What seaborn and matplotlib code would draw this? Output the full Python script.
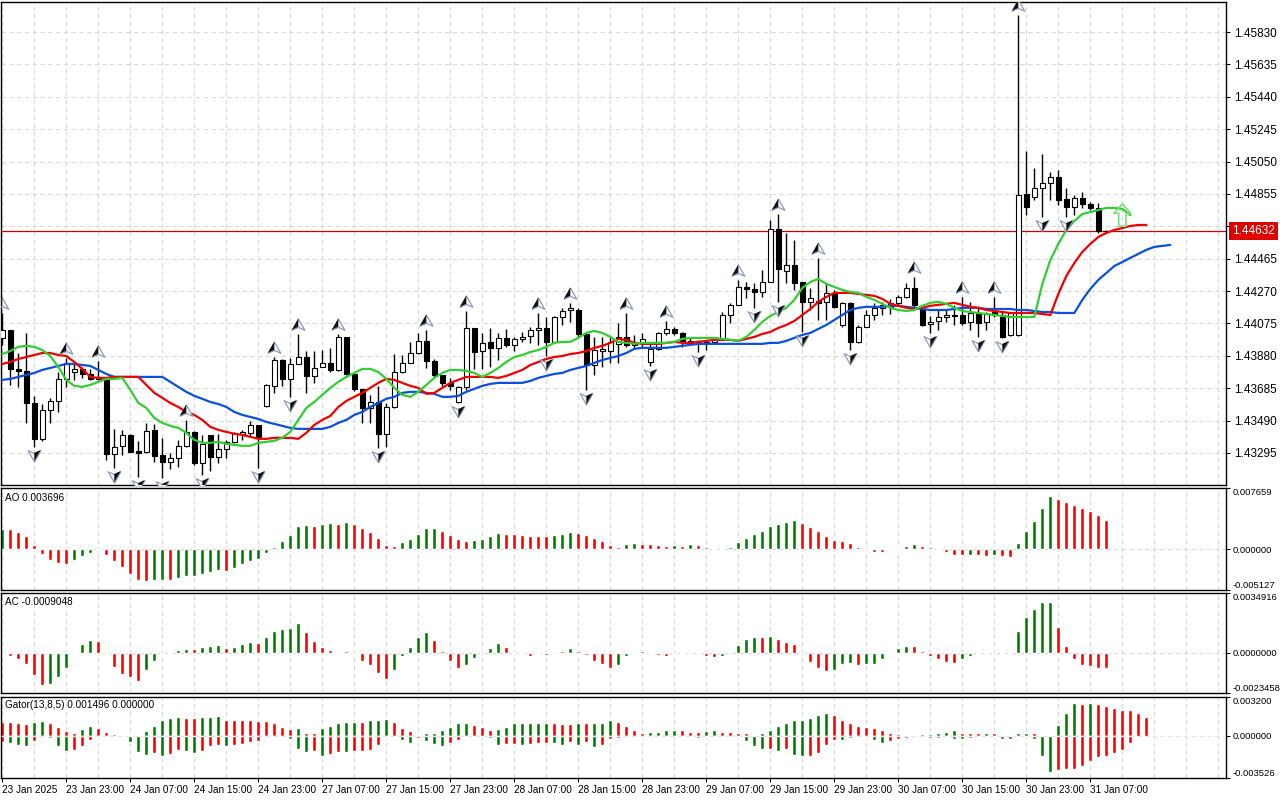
import numpy as np
import matplotlib
matplotlib.use('Agg')
import matplotlib.pyplot as plt
import matplotlib.transforms as mtransforms
from matplotlib.path import Path
import seaborn as sns

sns.set_theme(style='white')
plt.rcParams['font.family'] = ['Liberation Sans', 'DejaVu Sans']

# ---------------- DATA ----------------
open_ = [
    1.43988, 1.44036, 1.43801, 1.43789, 1.43596, 1.43380, 1.43554, 1.43608, 1.43741, 1.43783,
    1.43801, 1.43771, 1.43753, 1.43741, 1.43289, 1.43338, 1.43404, 1.43307, 1.43301, 1.43434,
    1.43283, 1.43241, 1.43265, 1.43338, 1.43422, 1.43235, 1.43404, 1.43271, 1.43320, 1.43362,
    1.43410, 1.43416, 1.43464, 1.43578, 1.43699, 1.43855, 1.43741, 1.43831, 1.43873, 1.43759,
    1.43813, 1.43837, 1.43795, 1.43994, 1.43771, 1.43681, 1.43566, 1.43602, 1.43410, 1.43572,
    1.43783, 1.43837, 1.43897, 1.43970, 1.43849, 1.43765, 1.43717, 1.43602, 1.43693, 1.44048,
    1.43909, 1.43964, 1.43928, 1.43988, 1.43946, 1.43982, 1.44000, 1.44036, 1.44048, 1.43964,
    1.44114, 1.44156, 1.44156, 1.44012, 1.43825, 1.43909, 1.43909, 1.43952, 1.43994, 1.43964,
    1.43958, 1.43843, 1.43922, 1.44018, 1.44042, 1.44018, 1.43970, 1.43964, 1.43964, 1.43964,
    1.43982, 1.44126, 1.44187, 1.44295, 1.44283, 1.44265, 1.44325, 1.44644, 1.44391, 1.44427,
    1.44325, 1.44205, 1.44211, 1.44205, 1.44259, 1.44066, 1.44199, 1.43964, 1.44054, 1.44126,
    1.44169, 1.44175, 1.44199, 1.44235, 1.44289, 1.44162, 1.44072, 1.44090, 1.44114, 1.44126,
    1.44126, 1.44084, 1.44138, 1.44084, 1.44144, 1.44126, 1.44006, 1.44006, 1.44855, 1.44837,
    1.44891, 1.44921, 1.44957, 1.44825, 1.44777, 1.44831, 1.44795, 1.44771, 1.44632]
high_ = [
    1.44138, 1.44036, 1.43897, 1.44018, 1.43639, 1.43590, 1.43627, 1.43783, 1.43867, 1.43837,
    1.43813, 1.43801, 1.43849, 1.43741, 1.43440, 1.43434, 1.43410, 1.43368, 1.43476, 1.43470,
    1.43386, 1.43295, 1.43374, 1.43494, 1.43428, 1.43404, 1.43404, 1.43410, 1.43374, 1.43422,
    1.43434, 1.43488, 1.43464, 1.43711, 1.43873, 1.43861, 1.43867, 1.44012, 1.43909, 1.43909,
    1.43915, 1.43928, 1.44012, 1.43994, 1.43777, 1.43681, 1.43645, 1.43699, 1.43596, 1.43891,
    1.43885, 1.43964, 1.44018, 1.44036, 1.43861, 1.43765, 1.43747, 1.43699, 1.44150, 1.44048,
    1.44018, 1.44048, 1.44018, 1.44042, 1.43994, 1.44024, 1.44054, 1.44138, 1.44114, 1.44120,
    1.44169, 1.44199, 1.44169, 1.44018, 1.43994, 1.43994, 1.43994, 1.44078, 1.44138, 1.44006,
    1.44018, 1.43958, 1.44024, 1.44090, 1.44054, 1.44024, 1.43988, 1.43976, 1.43976, 1.43988,
    1.44144, 1.44199, 1.44337, 1.44325, 1.44319, 1.44397, 1.44698, 1.44734, 1.44620, 1.44578,
    1.44325, 1.44289, 1.44469, 1.44319, 1.44277, 1.44205, 1.44205, 1.44066, 1.44156, 1.44199,
    1.44205, 1.44223, 1.44247, 1.44319, 1.44355, 1.44175, 1.44120, 1.44156, 1.44156, 1.44187,
    1.44235, 1.44205, 1.44169, 1.44144, 1.44235, 1.44144, 1.44144, 1.45933, 1.45114, 1.45012,
    1.45096, 1.44987, 1.44999, 1.44891, 1.44849, 1.44867, 1.44807, 1.44801, 1.44636]
low_ = [
    1.43946, 1.43705, 1.43693, 1.43476, 1.43332, 1.43368, 1.43476, 1.43542, 1.43693, 1.43735,
    1.43747, 1.43735, 1.43735, 1.43253, 1.43205, 1.43283, 1.43301, 1.43151, 1.43295, 1.43241,
    1.43145, 1.43199, 1.43211, 1.43332, 1.43223, 1.43163, 1.43187, 1.43235, 1.43265, 1.43356,
    1.43374, 1.43392, 1.43205, 1.43572, 1.43657, 1.43699, 1.43633, 1.43831, 1.43657, 1.43717,
    1.43813, 1.43783, 1.43789, 1.43765, 1.43669, 1.43476, 1.43476, 1.43326, 1.43332, 1.43566,
    1.43777, 1.43837, 1.43891, 1.43807, 1.43753, 1.43699, 1.43675, 1.43596, 1.43675, 1.43801,
    1.43801, 1.43813, 1.43855, 1.43934, 1.43909, 1.43964, 1.43958, 1.43946, 1.43879, 1.43958,
    1.44066, 1.44084, 1.43994, 1.43675, 1.43765, 1.43813, 1.43837, 1.43837, 1.43934, 1.43928,
    1.43934, 1.43819, 1.43915, 1.44006, 1.44006, 1.43934, 1.43946, 1.43903, 1.43915, 1.43952,
    1.43976, 1.44078, 1.44187, 1.44229, 1.44169, 1.44235, 1.44325, 1.44205, 1.44319, 1.44277,
    1.44024, 1.44156, 1.44096, 1.44096, 1.44169, 1.44054, 1.43915, 1.43958, 1.44054, 1.44096,
    1.44126, 1.44132, 1.44187, 1.44229, 1.44175, 1.44060, 1.44018, 1.44036, 1.44084, 1.44066,
    1.44066, 1.44036, 1.43994, 1.44036, 1.44114, 1.43988, 1.44000, 1.44000, 1.44728, 1.44819,
    1.44716, 1.44819, 1.44789, 1.44716, 1.44728, 1.44771, 1.44758, 1.44620, 1.44629]
close_ = [
    1.44036, 1.43801, 1.43789, 1.43596, 1.43380, 1.43554, 1.43608, 1.43741, 1.43837, 1.43801,
    1.43771, 1.43741, 1.43741, 1.43289, 1.43332, 1.43404, 1.43301, 1.43295, 1.43428, 1.43277,
    1.43241, 1.43265, 1.43338, 1.43422, 1.43235, 1.43350, 1.43271, 1.43320, 1.43362, 1.43416,
    1.43422, 1.43464, 1.43392, 1.43705, 1.43855, 1.43741, 1.43831, 1.43873, 1.43759, 1.43807,
    1.43837, 1.43795, 1.43994, 1.43771, 1.43681, 1.43566, 1.43602, 1.43410, 1.43572, 1.43783,
    1.43837, 1.43897, 1.43970, 1.43849, 1.43765, 1.43717, 1.43699, 1.43693, 1.44048, 1.43903,
    1.43958, 1.43928, 1.43988, 1.43946, 1.43982, 1.43994, 1.44036, 1.44048, 1.43964, 1.44114,
    1.44150, 1.44169, 1.44012, 1.43825, 1.43915, 1.43922, 1.43964, 1.43994, 1.43946, 1.43946,
    1.43982, 1.43922, 1.44018, 1.44042, 1.44018, 1.43970, 1.43958, 1.43952, 1.43958, 1.43982,
    1.44126, 1.44187, 1.44295, 1.44283, 1.44265, 1.44325, 1.44644, 1.44403, 1.44427, 1.44319,
    1.44205, 1.44229, 1.44199, 1.44259, 1.44175, 1.44199, 1.43964, 1.44054, 1.44126, 1.44169,
    1.44187, 1.44199, 1.44235, 1.44289, 1.44187, 1.44066, 1.44084, 1.44114, 1.44126, 1.44120,
    1.44078, 1.44138, 1.44078, 1.44132, 1.44126, 1.43994, 1.44138, 1.44849, 1.44777, 1.44891,
    1.44921, 1.44957, 1.44819, 1.44777, 1.44831, 1.44795, 1.44771, 1.44632, 1.44632]

# Alligator (already shifted forward as displayed): jaw (blue), teeth (red), lips (green)
jaw = [
    1.43735, 1.43741, 1.43753, 1.43765, 1.43777, 1.43795, 1.43807, 1.43819, 1.43831, 1.43831,
    1.43825, 1.43819, 1.43795, 1.43771, 1.43753, 1.43753, 1.43753, 1.43753, 1.43753, 1.43753,
    1.43753, 1.43723, 1.43693, 1.43663, 1.43639, 1.43621, 1.43602, 1.43590, 1.43572, 1.43542,
    1.43524, 1.43512, 1.43500, 1.43482, 1.43470, 1.43458, 1.43446, 1.43440, 1.43440, 1.43440,
    1.43440, 1.43452, 1.43476, 1.43494, 1.43524, 1.43542, 1.43572, 1.43596, 1.43621, 1.43633,
    1.43657, 1.43663, 1.43663, 1.43657, 1.43651, 1.43633, 1.43633, 1.43639, 1.43663, 1.43681,
    1.43699, 1.43711, 1.43717, 1.43717, 1.43717, 1.43717, 1.43729, 1.43747, 1.43759, 1.43771,
    1.43777, 1.43795, 1.43807, 1.43819, 1.43837, 1.43855, 1.43867, 1.43879, 1.43897, 1.43922,
    1.43928, 1.43928, 1.43928, 1.43928, 1.43934, 1.43940, 1.43946, 1.43952, 1.43952, 1.43952,
    1.43952, 1.43952, 1.43952, 1.43952, 1.43952, 1.43952, 1.43958, 1.43958, 1.43970, 1.43988,
    1.44006, 1.44018, 1.44042, 1.44066, 1.44096, 1.44126, 1.44156, 1.44169, 1.44175, 1.44175,
    1.44175, 1.44181, 1.44181, 1.44175, 1.44169, 1.44162, 1.44156, 1.44156, 1.44156, 1.44162,
    1.44169, 1.44169, 1.44169, 1.44162, 1.44162, 1.44162, 1.44162, 1.44156, 1.44156, 1.44150,
    1.44144, 1.44144, 1.44138, 1.44138, 1.44138, 1.44217, 1.44283, 1.44337, 1.44379, 1.44421,
    1.44445, 1.44470, 1.44494, 1.44518, 1.44536, 1.44542, 1.44548]
teeth = [
    1.43831, 1.43843, 1.43861, 1.43873, 1.43885, 1.43897, 1.43897, 1.43885, 1.43879, 1.43843,
    1.43801, 1.43753, 1.43747, 1.43747, 1.43753, 1.43753, 1.43753, 1.43753, 1.43705, 1.43657,
    1.43627, 1.43596, 1.43572, 1.43542, 1.43524, 1.43494, 1.43452, 1.43434, 1.43422, 1.43410,
    1.43404, 1.43392, 1.43380, 1.43380, 1.43386, 1.43386, 1.43386, 1.43380, 1.43416, 1.43464,
    1.43494, 1.43518, 1.43572, 1.43608, 1.43633, 1.43657, 1.43687, 1.43717, 1.43741, 1.43735,
    1.43717, 1.43699, 1.43687, 1.43651, 1.43657, 1.43687, 1.43717, 1.43735, 1.43753, 1.43753,
    1.43753, 1.43753, 1.43747, 1.43759, 1.43777, 1.43795, 1.43825, 1.43843, 1.43861, 1.43873,
    1.43879, 1.43891, 1.43897, 1.43909, 1.43928, 1.43940, 1.43958, 1.43982, 1.43976, 1.43958,
    1.43952, 1.43952, 1.43952, 1.43958, 1.43964, 1.43958, 1.43958, 1.43964, 1.43970, 1.43976,
    1.43976, 1.43976, 1.43970, 1.43982, 1.43994, 1.44012, 1.44024, 1.44048, 1.44066, 1.44090,
    1.44126, 1.44162, 1.44205, 1.44235, 1.44259, 1.44259, 1.44259, 1.44253, 1.44247, 1.44241,
    1.44223, 1.44193, 1.44181, 1.44169, 1.44162, 1.44169, 1.44181, 1.44187, 1.44193, 1.44199,
    1.44187, 1.44175, 1.44169, 1.44156, 1.44150, 1.44144, 1.44138, 1.44138, 1.44138, 1.44138,
    1.44132, 1.44126, 1.44253, 1.44361, 1.44439, 1.44506, 1.44554, 1.44596, 1.44620, 1.44638,
    1.44650, 1.44662, 1.44668, 1.44668]
lips = [
    1.43891, 1.43909, 1.43934, 1.43940, 1.43934, 1.43915, 1.43879, 1.43813, 1.43735, 1.43699,
    1.43693, 1.43705, 1.43723, 1.43741, 1.43741, 1.43747, 1.43675, 1.43596, 1.43566, 1.43506,
    1.43476, 1.43458, 1.43446, 1.43416, 1.43374, 1.43356, 1.43356, 1.43362, 1.43350, 1.43344,
    1.43338, 1.43338, 1.43356, 1.43362, 1.43368, 1.43386, 1.43422, 1.43494, 1.43566, 1.43602,
    1.43645, 1.43687, 1.43723, 1.43753, 1.43777, 1.43801, 1.43801, 1.43783, 1.43741, 1.43687,
    1.43645, 1.43633, 1.43663, 1.43705, 1.43747, 1.43777, 1.43795, 1.43795, 1.43789, 1.43777,
    1.43753, 1.43777, 1.43807, 1.43843, 1.43873, 1.43885, 1.43903, 1.43915, 1.43934, 1.43958,
    1.43964, 1.43964, 1.43988, 1.44018, 1.44030, 1.44018, 1.43994, 1.43964, 1.43958, 1.43952,
    1.43958, 1.43958, 1.43958, 1.43958, 1.43964, 1.43982, 1.43988, 1.43988, 1.43988, 1.43988,
    1.43982, 1.43976, 1.43970, 1.43994, 1.44036, 1.44084, 1.44120, 1.44144, 1.44169, 1.44217,
    1.44289, 1.44325, 1.44343, 1.44313, 1.44295, 1.44277, 1.44265, 1.44259, 1.44235, 1.44217,
    1.44193, 1.44169, 1.44156, 1.44150, 1.44156, 1.44181, 1.44199, 1.44205, 1.44193, 1.44169,
    1.44150, 1.44144, 1.44138, 1.44132, 1.44126, 1.44120, 1.44114, 1.44114, 1.44114, 1.44114,
    1.44313, 1.44457, 1.44554, 1.44638, 1.44692, 1.44734, 1.44746, 1.44758, 1.44771, 1.44771,
    1.44765, 1.44728]

fractal_up = [0, 8, 12, 23, 34, 37, 42, 53, 58, 67, 71, 78, 83, 92, 97, 102, 114, 120, 124, 127]
fractal_down = [4, 14, 17, 20, 25, 32, 36, 47, 57, 68, 73, 81, 87, 94, 97, 100, 106, 116, 122,
                125, 130, 133]
signal_bar = [140]
signal_price = [1.44728]
last_price = 1.44632

# Awesome Oscillator, in units of 1e-4
ao_e4 = [
    25.5, 24.7, 20.9, 15.9, 4.6, -6.3, -13.8, -17.5, -18.8, -13.8,
    -9.2, -5.0, -1.7, -7.5, -15.0, -22.6, -30.9, -38.9, -40.5, -38.9,
    -38.6, -38.8, -35.9, -34.3, -33.4, -31.3, -29.2, -26.7, -27.2, -23.8,
    -18.8, -15.0, -12.5, -5.0, 2.1, 9.6, 17.1, 28.4, 29.7, 29.5,
    31.3, 32.2, 31.3, 33.8, 30.9, 25.9, 20.9, 13.4, 4.6, 3.3,
    8.4, 12.1, 18.4, 25.9, 26.2, 22.1, 18.0, 12.1, 9.6, 10.9,
    12.1, 15.9, 19.6, 19.4, 18.4, 17.1, 16.3, 16.1, 15.9, 17.1,
    18.4, 20.9, 19.6, 17.1, 13.4, 9.6, 4.6, 2.1, 5.8, 7.1,
    6.9, 5.8, 4.6, 3.3, 4.6, 4.4, 5.8, 4.6, 2.1, 0.8,
    1.0, 2.1, 8.4, 13.4, 18.4, 22.1, 28.4, 30.9, 33.4, 35.9,
    32.2, 27.2, 22.1, 15.9, 10.9, 10.7, 7.1, 2.1, -0.8, -3.8,
    -3.9, -0.8, 0.8, 3.3, 5.8, 3.3, 2.1, -0.8, -3.8, -7.5,
    -7.6, -7.4, -7.5, -8.8, -7.5, -8.8, -10.0, 7.1, 22.1, 34.7,
    51.0, 66.0, 62.3, 58.5, 54.7, 51.0, 47.2, 42.2, 37.0]
# Accelerator Oscillator, in units of 1e-4
ac_e4 = [
    -0.4, -1.6, -3.9, -6.8, -13.2, -18.5, -18.3, -14.4, -8.6, -0.4,
    5.3, 7.6, 7.0, -0.2, -8.0, -12.6, -14.4, -16.2, -10.3, -4.5,
    -0.8, 0.4, 1.8, 2.3, 2.2, 3.5, 4.1, 4.7, 2.9, 3.5,
    5.3, 6.4, 5.8, 9.3, 12.8, 14.0, 14.6, 17.5, 12.3, 7.0,
    3.5, 1.8, 0.2, 1.2, -0.2, -4.5, -7.4, -11.5, -15.0, -10.3,
    -2.1, 3.5, 9.3, 12.3, 7.6, 1.2, -4.5, -9.1, -7.4, -3.3,
    -0.2, 2.9, 5.8, 3.5, 0.6, 0.2, -2.1, -0.3, -1.0, 0.2,
    1.2, 2.9, 1.2, -1.0, -4.5, -6.8, -8.6, -7.4, -2.1, 0.6,
    1.2, -0.4, -1.0, -1.6, -0.4, 0.2, 0.6, -0.05, -1.6, -2.7,
    -1.6, -0.2, 4.7, 8.2, 9.3, 9.2, 9.9, 8.2, 6.4, 5.3,
    -0.2, -5.6, -8.6, -10.9, -10.3, -6.8, -6.2, -7.4, -6.8, -6.7,
    -3.9, -0.1, 2.9, 4.1, 4.0, 1.2, -1.6, -3.9, -5.6, -6.2,
    -3.9, -2.1, -0.8, -0.4, -0.1, -0.8, -0.5, 12.8, 21.0, 25.7,
    29.8, 29.9, 15.2, 4.1, -3.9, -7.4, -7.5, -8.6, -9.05]
# Gator oscillator, in units of 1e-4 (upper shifted 5 bars, lower shifted 3 bars)
gator_up_e4 = [
    11.1, 11.0, 10.0, 9.9, 11.1, 11.9, 10.0, 7.5, 3.6, 1.7,
    5.8, 8.3, 6.4, 3.3, 1.1, 0.3, 0.1, 0.8, 3.6, 8.3,
    13.3, 14.4, 15.5, 14.9, 14.8, 15.0, 15.8, 15.9, 13.3, 12.7,
    12.6, 12.5, 12.4, 12.2, 10.0, 7.5, 5.8, 6.6, 2.5, 1.7,
    6.6, 8.3, 10.8, 11.3, 11.6, 11.5, 12.5, 13.0, 13.6, 11.1,
    6.6, 3.6, 0.3, 1.7, 2.2, 4.2, 7.5, 10.0, 10.1, 9.1,
    7.5, 5.0, 5.1, 7.5, 10.0, 10.1, 10.2, 10.3, 10.4, 10.0,
    9.9, 9.8, 10.8, 10.0, 10.1, 10.8, 12.5, 11.6, 8.3, 4.2,
    2.5, 2.6, 3.3, 4.2, 5.0, 4.2, 3.3, 3.2, 3.4, 4.2,
    3.3, 3.2, 2.5, 1.7, 0.3, 2.2, 5.0, 8.3, 10.8, 12.5,
    13.3, 14.9, 17.4, 18.3, 17.4, 13.3, 10.8, 8.3, 7.5, 6.6,
    5.0, 2.5, 1.4, 0.8, 0.7, 0.9, 1.0, 2.5, 3.3, 4.2,
    2.5, 2.2, 1.7, 1.8, 1.7, 0.8, 0.3, 1.7, 2.5, 1.7,
    0.2, 0.1, 9.1, 19.1, 27.4, 26.6, 26.7, 26.6, 24.9, 23.2,
    21.6, 20.8, 19.1, 15.0]
gator_dn_e4 = [
    -5.5, -6.6, -8.0, -8.9, -4.7, -0.8, -2.2, -8.9, -13.0, -12.2,
    -8.9, -3.9, -1.1, -0.3, -0.3, -0.2, -5.5, -13.8, -15.8, -14.7,
    -16.6, -15.2, -12.2, -13.0, -14.7, -13.0, -8.9, -7.5, -8.9, -8.0,
    -6.9, -5.5, -4.2, -1.4, -0.8, -1.4, -3.0, -11.1, -13.8, -13.0,
    -16.6, -15.5, -13.8, -13.9, -13.0, -12.9, -11.6, -8.0, -1.4, -1.5,
    -3.9, -6.4, -2.2, -4.7, -7.2, -8.9, -6.4, -3.9, -1.4, -1.5,
    -0.6, -2.2, -8.0, -7.2, -7.1, -8.0, -7.2, -6.4, -6.3, -6.4,
    -8.0, -5.5, -8.0, -5.5, -9.7, -8.0, -2.5, -2.2, -1.4, -0.3,
    -1.4, -1.4, -0.8, -0.6, -0.6, -1.4, -1.4, -2.2, -1.4, -1.0,
    -0.8, -0.8, -1.4, -4.7, -8.3, -11.1, -11.1, -13.0, -11.1, -15.8,
    -17.4, -16.6, -14.7, -7.5, -3.9, -4.0, -2.2, -1.4, -0.8, -3.9,
    -6.4, -4.7, -3.0, -2.2, -0.8, -0.6, -2.2, -2.3, -1.4, -3.0,
    -3.1, -2.2, -1.4, -1.4, -1.4, -3.0, -3.1, -0.5, -0.4, -3.0,
    -16.6, -30.4, -29.0, -28.2, -27.4, -25.7, -21.3, -18.0, -16.6, -14.7,
    -11.6, -6.4]

price_ticks = [1.43295, 1.43490, 1.43685, 1.43880, 1.44075, 1.44270, 1.44465,
               1.44660, 1.44855, 1.45050, 1.45245, 1.45440, 1.45635, 1.45830]
time_tick_bars = list(range(0, 137, 8))
time_tick_labels = ['23 Jan 2025', '23 Jan 23:00', '24 Jan 07:00', '24 Jan 15:00',
                    '24 Jan 23:00', '27 Jan 07:00', '27 Jan 15:00', '27 Jan 23:00',
                    '28 Jan 07:00', '28 Jan 15:00', '28 Jan 23:00', '29 Jan 07:00',
                    '29 Jan 15:00', '29 Jan 23:00', '30 Jan 07:00', '30 Jan 15:00',
                    '30 Jan 23:00', '31 Jan 07:00']
ao_range = (-0.005127, 0.007659)
ac_range = (-0.0023458, 0.0034916)
gator_range = (-0.003526, 0.003200)
ao_title = 'AO 0.003696'
ac_title = 'AC -0.0009048'
gator_title = 'Gator(13,8,5) 0.001496 0.000000'

# ---------------- FIGURE ----------------
GREEN = '#008000'
RED = '#ff0000'
GRID = '#d9d9d9'
W, H = 1280, 800
fig = plt.figure(figsize=(12.8, 8), dpi=100)
fig.patch.set_facecolor('white')


def rect(x0, y0, x1, y1):
    return [x0 / W, 1 - y1 / H, (x1 - x0) / W, (y1 - y0) / H]


ax_main = fig.add_axes(rect(1, 2, 1226, 485))
ax_ao = fig.add_axes(rect(1, 488, 1226, 590))
ax_ac = fig.add_axes(rect(1, 593, 1226, 693))
ax_gt = fig.add_axes(rect(1, 697, 1226, 778))
axes = [ax_main, ax_ao, ax_ac, ax_gt]
XL = (-0.16, 152.96)

for ax in axes:
    ax.set_facecolor('white')
    ax.set_xlim(*XL)
    for s in ax.spines.values():
        s.set_color('black')
        s.set_linewidth(1.0)
    for k in range(0, 153, 4):
        ax.axvline(k, color=GRID, lw=0.8, ls=(0, (4, 3)), zorder=0)
    ax.tick_params(axis='x', bottom=False, labelbottom=False)
    ax.yaxis.tick_right()
    ax.tick_params(axis='y', right=True, left=False, length=3, width=0.8,
                   pad=2, labelsize=6.8, colors='black', direction='out')

# ---- main price panel ----
o = np.array(open_); h = np.array(high_); l = np.array(low_); c = np.array(close_)
idx = np.arange(len(c))
ax_main.set_ylim(1.43102, 1.46011)
for p in price_ticks:
    ax_main.axhline(p, color=GRID, lw=0.8, ls=(0, (4, 3)), zorder=0)
ax_main.axhline(last_price, color='#c40000', lw=0.9, zorder=2)

ax_main.vlines(idx, l, h, color='black', lw=1.0, zorder=3)
bull = c >= o
body_b = np.minimum(o, c)
body_h = np.maximum(np.abs(c - o), 0.000015)
ax_main.bar(idx, body_h, bottom=body_b, width=0.6,
            color=np.where(bull, 'white', 'black'), edgecolor='black',
            linewidth=0.8, zorder=4)

sns.lineplot(x=np.arange(len(jaw)), y=jaw, ax=ax_main, color='#0a50d8',
             linewidth=1.6, estimator=None, sort=False, legend=False, zorder=5)
sns.lineplot(x=np.arange(len(teeth)), y=teeth, ax=ax_main, color='#f00000',
             linewidth=1.6, estimator=None, sort=False, legend=False, zorder=5)
sns.lineplot(x=np.arange(len(lips)), y=lips, ax=ax_main, color='#33cc33',
             linewidth=1.6, estimator=None, sort=False, legend=False, zorder=5)

# fractal arrows: light outlined arrowhead with one dark half
C4 = [Path.MOVETO, Path.LINETO, Path.LINETO, Path.LINETO, Path.CLOSEPOLY]
C3 = [Path.MOVETO, Path.LINETO, Path.LINETO, Path.CLOSEPOLY]
up_full = Path([(0, 1), (1, -0.75), (0, -0.3), (-1, -0.75), (0, 1)], C4)
up_half = Path([(0, 1), (0, -0.3), (-1, -0.75), (0, 1)], C3)
dn_full = Path([(0, -1), (1, 0.75), (0, 0.3), (-1, 0.75), (0, -1)], C4)
dn_half = Path([(0, -1), (0, 0.3), (1, 0.75), (0, -1)], C3)
tr_up = mtransforms.offset_copy(ax_main.transData, fig=fig, x=0, y=9, units='dots')
tr_dn = mtransforms.offset_copy(ax_main.transData, fig=fig, x=0, y=-8, units='dots')
fu = np.array(fractal_up); fd = np.array(fractal_down)
for pts, yv, tr, full, half in [(fu, h[fu], tr_up, up_full, up_half),
                                 (fd, l[fd], tr_dn, dn_full, dn_half)]:
    ax_main.scatter(pts, yv, marker=full, s=85, c='#f4f6fa', edgecolors='#8596b0',
                    linewidths=0.8, transform=tr, zorder=6)
    ax_main.scatter(pts, yv, marker=half, s=85, c='#111111', edgecolors='none',
                    transform=tr, zorder=7)

arrow_path = Path([(0, 1), (0.75, 0.15), (0.32, 0.15), (0.32, -1), (-0.32, -1),
                   (-0.32, 0.15), (-0.75, 0.15), (0, 1)],
                  [Path.MOVETO] + [Path.LINETO] * 6 + [Path.CLOSEPOLY])
ax_main.scatter(signal_bar, signal_price, marker=arrow_path, s=260, facecolors='none',
                edgecolors='#7ddc7d', linewidths=1.2, zorder=7)

ax_main.set_yticks(price_ticks)
ax_main.set_yticklabels([f'{p:.5f}' for p in price_ticks])
ax_main.tick_params(axis='y', labelsize=8.5, pad=3)
trans = mtransforms.blended_transform_factory(ax_main.transAxes, ax_main.transData)
ax_main.text(1.0049, last_price, f'{last_price:.5f}', transform=trans, ha='left',
             va='center', fontsize=8.5, color='white', clip_on=False, zorder=20,
             bbox=dict(boxstyle='square,pad=0.25', fc='#e00000', ec='none'))


# ---- oscillators ----
def up_down_colors(vals, first, use_abs=False):
    v = np.abs(vals) if use_abs else np.asarray(vals)
    cols = [first]
    for i in range(1, len(v)):
        cols.append(GREEN if v[i] > v[i - 1] else RED)
    return cols


def setup_osc(ax, rng, fmt, title, ty):
    ax.set_ylim(*rng)
    ticks = [rng[0], 0.0, rng[1]]
    ax.set_yticks(ticks)
    labs = ax.set_yticklabels([fmt.format(t) for t in ticks])
    labs[0].set_verticalalignment('bottom')
    labs[-1].set_verticalalignment('top')
    ax.text(0.0035, ty, title, transform=ax.transAxes, ha='left', va='top',
            fontsize=7.2, color='black')


ao = np.array(ao_e4) * 1e-4
ac = np.array(ac_e4) * 1e-4
gu = np.array(gator_up_e4) * 1e-4
gd = np.array(gator_dn_e4) * 1e-4

ax_ao.axhline(0, color=GRID, lw=0.8, ls=(0, (4, 3)), zorder=1)
ax_ao.bar(np.arange(len(ao)), ao, width=0.5, color=up_down_colors(ao, GREEN), zorder=2)
setup_osc(ax_ao, ao_range, '{:.6f}', ao_title, 0.95)

ax_ac.axhline(0, color=GRID, lw=0.8, ls=(0, (4, 3)), zorder=1)
ax_ac.bar(np.arange(len(ac)), ac, width=0.5, color=up_down_colors(ac, RED), zorder=2)
setup_osc(ax_ac, ac_range, '{:.7f}', ac_title, 0.96)

ax_gt.bar(np.arange(len(gu)), gu, width=0.5, color=up_down_colors(gu, RED, True), zorder=2)
ax_gt.bar(np.arange(len(gd)), gd, width=0.5, color=up_down_colors(gd, RED, True), zorder=2)
ax_gt.axhline(0, color='#e6e6e6', lw=0.8, ls=(0, (4, 3)), zorder=3)
setup_osc(ax_gt, gator_range, '{:.6f}', gator_title, 0.965)

ax_gt.set_xticks(time_tick_bars)
ax_gt.set_xticklabels(time_tick_labels, ha='left')
ax_gt.tick_params(axis='x', bottom=True, labelbottom=True, length=3, width=0.8,
                  pad=2, labelsize=7.2, colors='black', direction='out')

fig.savefig('out.png', dpi=100, facecolor='white')
